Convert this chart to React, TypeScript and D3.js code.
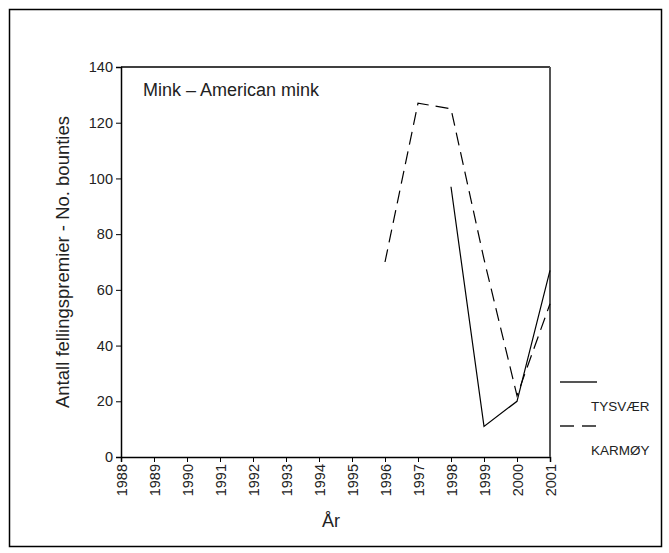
import React, { useEffect, useRef } from "react";
import * as d3 from "d3";

const years = [1988, 1989, 1990, 1991, 1992, 1993, 1994, 1995, 1996, 1997, 1998, 1999, 2000, 2001];
const yTicks = [0, 20, 40, 60, 80, 100, 120, 140];
const tysvaerYears = [1998, 1999, 2000, 2001];
const tysvaerValues = [97, 11, 20, 67];
const karmoyYears = [1996, 1997, 1998, 1999, 2000, 2001];
const karmoyValues = [70, 127, 125, 71, 22, 55];
const seriesNames = ["TYSVÆR", "KARMØY"];

const App = () => {
  const ref = useRef<SVGSVGElement>(null);

  useEffect(() => {
    const svg = d3.select(ref.current);
    svg.selectAll("*").remove();

    const margin = { top: 67, left: 121 },
      width = 429,
      height = 390;
    const font = "Liberation Sans, Arial, sans-serif";

    // outer frame
    svg
      .append("rect")
      .attr("x", 9.5)
      .attr("y", 9.5)
      .attr("width", 652)
      .attr("height", 537)
      .attr("fill", "white")
      .attr("stroke", "black")
      .attr("stroke-width", 1.5);

    const g = svg.append("g").attr("transform", `translate(${margin.left},${margin.top})`);

    const x = d3.scaleLinear().domain([1988, 2001]).range([0, width]);
    const y = d3.scaleLinear().domain([0, 140]).range([height, 0]);

    // y axis
    const yAxis = g
      .append("g")
      .call(d3.axisLeft(y).tickValues(yTicks).tickSize(5).tickPadding(3).tickFormat(d3.format("d")));
    yAxis.select(".domain").attr("stroke-width", 1.5);
    yAxis.selectAll("text").style("font-family", font).style("font-size", "14.5px").attr("fill", "#222");

    // x axis
    const xAxis = g
      .append("g")
      .attr("transform", `translate(0,${height})`)
      .call(d3.axisBottom(x).tickValues(years).tickSize(5).tickFormat(d3.format("d")));
    xAxis.select(".domain").attr("stroke-width", 1.5);
    xAxis
      .selectAll("text")
      .style("font-family", font)
      .style("font-size", "14.5px")
      .attr("fill", "#222")
      .attr("transform", "rotate(-90)")
      .attr("x", -7)
      .attr("y", 0)
      .attr("dy", "0.35em")
      .style("text-anchor", "end");

    // top and right frame of plot
    g.append("line").attr("x1", 0).attr("x2", width).attr("y1", 0).attr("y2", 0).attr("stroke", "black").attr("stroke-width", 1.5);
    g.append("line").attr("x1", width).attr("x2", width).attr("y1", 0).attr("y2", height).attr("stroke", "#555").attr("stroke-width", 2);

    const line = d3
      .line<[number, number]>()
      .x((d) => x(d[0]))
      .y((d) => y(d[1]));

    g.append("path")
      .datum(tysvaerYears.map((yr, i) => [yr, tysvaerValues[i]] as [number, number]))
      .attr("d", line)
      .attr("fill", "none")
      .attr("stroke", "black")
      .attr("stroke-width", 1.2);

    g.append("path")
      .datum(karmoyYears.map((yr, i) => [yr, karmoyValues[i]] as [number, number]))
      .attr("d", line)
      .attr("fill", "none")
      .attr("stroke", "black")
      .attr("stroke-width", 1.2)
      .attr("stroke-dasharray", "13,7");

    // title inside plot
    g.append("text")
      .attr("x", 22)
      .attr("y", 29)
      .style("font-family", font)
      .style("font-size", "18px")
      .attr("fill", "#222")
      .text("Mink – American mink");

    // axis titles
    svg
      .append("text")
      .attr("transform", `translate(69,${margin.top + height / 2}) rotate(-90)`)
      .attr("text-anchor", "middle")
      .style("font-family", font)
      .style("font-size", "18.5px")
      .attr("fill", "#222")
      .text("Antall fellingspremier - No. bounties");

    svg
      .append("text")
      .attr("x", 331)
      .attr("y", 527)
      .attr("text-anchor", "middle")
      .style("font-family", font)
      .style("font-size", "18px")
      .attr("fill", "#222")
      .text("År");

    // legend
    const legend = svg.append("g");
    const legendY = [382, 426];
    seriesNames.forEach((name, i) => {
      legend
        .append("line")
        .attr("x1", 560)
        .attr("x2", 597)
        .attr("y1", legendY[i])
        .attr("y2", legendY[i])
        .attr("stroke", "#555")
        .attr("stroke-width", 2)
        .attr("stroke-dasharray", i === 1 ? "14,8" : null);
      legend
        .append("text")
        .attr("x", 591)
        .attr("y", legendY[i] + 29)
        .style("font-family", font)
        .style("font-size", "13.5px")
        .attr("fill", "#222")
        .text(name);
    });
  }, []);

  return (
    <svg
      ref={ref}
      width={669}
      height={553}
      style={{ position: "absolute", left: 0, top: 0, display: "block" }}
    ></svg>
  );
};

export default App;
